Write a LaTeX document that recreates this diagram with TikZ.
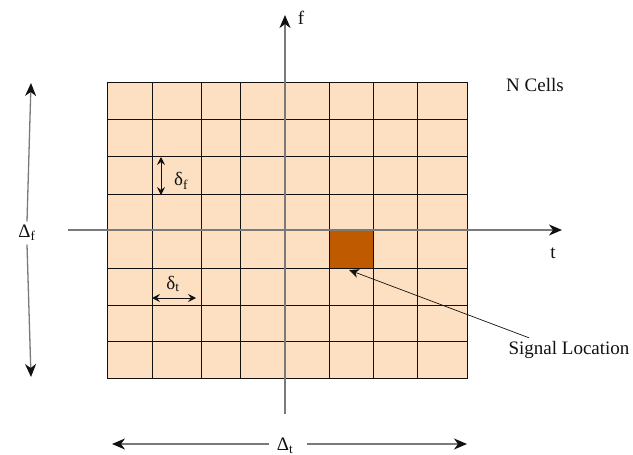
\documentclass[tikz,border=0pt]{standalone}
\usepackage{fontspec}
\setmainfont{Liberation Serif}
\usetikzlibrary{arrows.meta,positioning}
\definecolor{cellfill}{HTML}{FDE0C2}
\definecolor{sigfill}{HTML}{C05A00}
\definecolor{axisgray}{HTML}{7A7A7A}
\definecolor{ink}{HTML}{111111}

\begin{document}
\begin{tikzpicture}[x=1pt, y=-1pt,
    font=\rmfamily\fontsize{19}{22}\selectfont, text=ink,
    bigtip/.style={-{Stealth[length=13pt,width=11pt,inset=4pt,color=ink]}},
    smalltip/.style={{Stealth[length=8pt,width=8pt,inset=3pt]}-{Stealth[length=8pt,width=8pt,inset=3pt]}},
    axis/.style={draw=axisgray, line width=1.3pt}]
    \useasboundingbox (0,0) rectangle (633,455);
    % cells
    \fill[cellfill] (107,82) rectangle (467,378);
    \fill[sigfill] (329,230) rectangle (373,268);
    \foreach \gx in {152,201,240,329,373,417}
      \draw[ink, line width=0.9pt] (\gx,82) -- (\gx,378);
    \foreach \gy in {119,156,194,268,305,341}
      \draw[ink, line width=0.9pt] (107,\gy) -- (467,\gy);
    \draw[ink, line width=0.9pt] (107,82) rectangle (467,378);
    \draw[ink, line width=0.9pt] (329,230) rectangle (373,268);
    % axes
    \coordinate (tstart) at (68,230);
    \coordinate (tend) at (562,230);
    \coordinate (fstart) at (285,414);
    \coordinate (fend) at (285,15);
    \draw[axis, bigtip] (tstart) -- (tend);
    \draw[axis, bigtip] (fstart) -- (fend);
    \node (flab) at (301,18) {f};
    \node (tlab) at (553,253) {t};
    \node (ncells) at (535,85) {N Cells};
    % signal location
    \node (sig) at (569,350) {Signal Location};
    \coordinate (sigcell) at (349,270);
    \draw[ink, line width=0.7pt, -{Stealth[length=10pt,width=9pt,inset=3pt]}] ([xshift=24pt]sig.north west) -- (sigcell);
    % cell sizes
    \coordinate (dftop) at (161,157);
    \coordinate (dfbot) at (161,195);
    \draw[ink, line width=0.8pt, smalltip] (dftop) -- (dfbot);
    \node (dflab) at (181,181) {δ\textsubscript{f}};
    \coordinate (dtleft) at (152,298);
    \coordinate (dtright) at (196,298);
    \draw[ink, line width=0.8pt, smalltip] (dtleft) -- (dtright);
    \node (dtlab) at (173,284) {δ\textsubscript{t}};
    % total extents
    \node (Dflab) at (27,233) {Δ\textsubscript{f}};
    \coordinate (Dftop) at (31,83);
    \coordinate (Dfbot) at (31,377);
    \draw[axis, bigtip] (Dflab.north) -- (Dftop);
    \draw[axis, bigtip] (Dflab.south) -- (Dfbot);
    \node (Dtlab) at (285,446) {Δ\textsubscript{t}};
    \coordinate (Dtleft) at (112,444);
    \coordinate (Dtright) at (467,444);
    \draw[axis, bigtip] (Dtlab.west) ++(-4,-2) -- (Dtleft);
    \draw[axis, bigtip] (Dtlab.east) ++(10,-2) -- (Dtright);
\end{tikzpicture}
\end{document}
